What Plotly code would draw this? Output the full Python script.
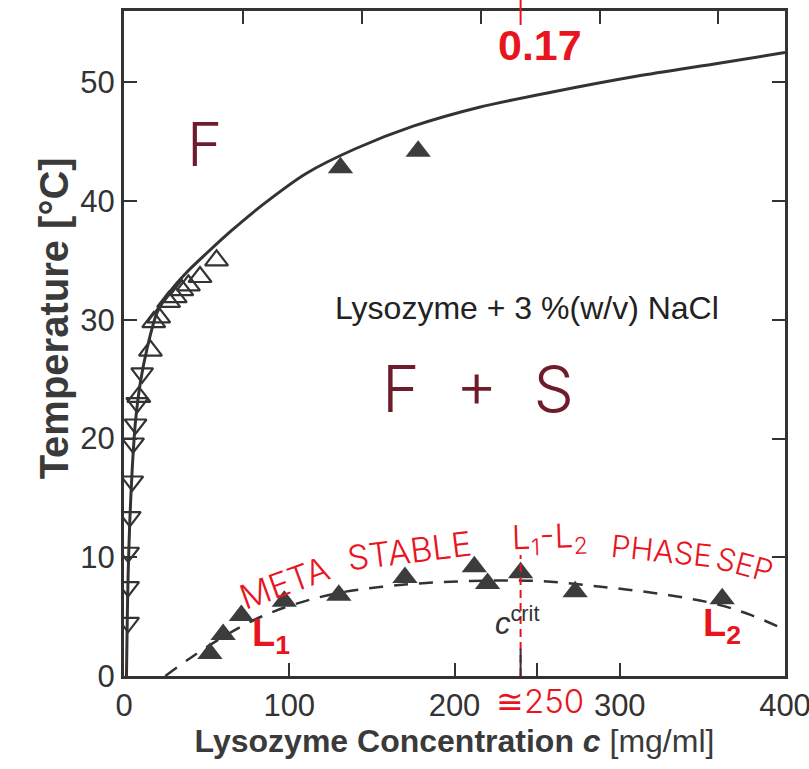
import plotly.graph_objects as go

# ---------------- data ----------------
# solubility line (solid)
curve_c = [1.5, 2, 2.5, 3.5, 5, 7, 10, 14, 20, 28, 38, 50, 65, 85, 110, 140, 175, 215, 260, 310, 360, 400]
curve_T = [0, 5, 8.5, 13, 17.5, 21.5, 24.8, 27.6, 30.6, 32.4, 34.0, 35.6, 37.5, 39.8, 42.3, 44.4, 46.3, 47.9, 49.2, 50.5, 51.6, 52.5]

# open triangles (up)
up_c = [9, 16, 18, 21, 27, 31, 35, 39, 46, 56]
up_T = [23.5, 27.4, 29.8, 30.2, 31.5, 31.9, 32.5, 32.9, 33.6, 35.0]

# open triangles (down)
down_c = [2.5, 2.5, 2.5, 3.5, 5, 5.5, 7, 8, 11]
down_T = [4.5, 7.5, 10.4, 13.4, 16.4, 19.6, 21.2, 23.0, 25.5]

# filled triangles (L1-L2 coexistence and two high points)
fill_c = [52, 60, 71, 97, 130, 170, 212, 220, 240, 273, 362, 131, 178]
fill_T = [1.9, 3.5, 5.1, 6.3, 6.8, 8.3, 9.2, 7.8, 8.7, 7.1, 6.5, 42.8, 44.2]

# coexistence curve (dashed)
dash_c = [25, 40, 60, 80, 100, 130, 170, 210, 250, 290, 330, 360, 380, 400]
dash_T = [0, 1.5, 3.3, 4.8, 5.9, 7.0, 7.7, 8.0, 8.0, 7.5, 6.8, 6.0, 5.1, 3.9]

x_ticks = [0, 100, 200, 250, 300, 400]
x_ticktext = ["0", "100", "200", "", "300", "400"]
y_ticks = [0, 10, 20, 30, 40, 50]
phi_ticks = [0.05, 0.10, 0.15, 0.20, 0.25]
PHI_PER_C = 0.000695
c_crit = 240

INK = "#333333"
RED = "#e8141e"
MAROON = "#6e1c2c"

fig = go.Figure()

fig.add_trace(go.Scatter(x=curve_c, y=curve_T, mode="lines",
                         line=dict(color=INK, width=3, shape="spline", smoothing=0.8),
                         showlegend=False, hoverinfo="skip"))
fig.add_trace(go.Scatter(x=dash_c, y=dash_T, mode="lines",
                         line=dict(color=INK, width=2.5, shape="spline", dash="14px,11px"),
                         showlegend=False, hoverinfo="skip"))
fig.add_trace(go.Scatter(x=down_c, y=down_T, mode="markers",
                         marker=dict(symbol="triangle-down-open", size=19, color=INK,
                                     line=dict(width=2.2, color=INK)),
                         showlegend=False))
fig.add_trace(go.Scatter(x=up_c, y=up_T, mode="markers",
                         marker=dict(symbol="triangle-up-open", size=20, color=INK,
                                     line=dict(width=2.2, color=INK)),
                         showlegend=False))
fig.add_trace(go.Scatter(x=fill_c, y=fill_T, mode="markers",
                         marker=dict(symbol="triangle-up", size=22, color="#3c3c3c"),
                         showlegend=False))
# phantom trace for the top (volume fraction) axis
fig.add_trace(go.Scatter(x=phi_ticks, y=[None] * len(phi_ticks), xaxis="x2",
                         mode="markers", showlegend=False, hoverinfo="skip"))

# red critical concentration line
fig.add_shape(type="line", x0=c_crit, x1=c_crit, y0=0, y1=10.2, xref="x", yref="y",
              line=dict(color=RED, width=2, dash="8px,5px"))
fig.add_shape(type="line", x0=c_crit, x1=c_crit, y0=0.979, y1=1.03, xref="x", yref="paper",
              line=dict(color=RED, width=2))
fig.add_shape(type="line", x0=c_crit, x1=c_crit, y0=0, y1=2.3, xref="x", yref="y",
              line=dict(color=INK, width=2))

hand = "Inter"
ann = []
ann.append(dict(x=49, y=44.8, text="F", font=dict(family=hand, size=60, color=MAROON, weight=300)))
ann.append(dict(x=214, y=24.2, text="F  +  S", font=dict(family=hand, size=64, color=MAROON, weight=300)))
ann.append(dict(x=244, y=31.0, text="Lysozyme + 3 %(w/v) NaCl",
                font=dict(family="Liberation Sans", size=32, color="#222222")))
ann.append(dict(x=252, y=53.1, text="<b>0.17</b>", font=dict(family="Liberation Sans", size=43, color=RED)))
ann.append(dict(x=238, y=4.6, text="<i>c</i><sup>crit</sup>",
                font=dict(family="Liberation Sans", size=31, color=INK)))
ann.append(dict(x=89, y=3.4, text="<b>L<sub>1</sub></b>", font=dict(family="Liberation Sans", size=38, color=RED)))
ann.append(dict(x=362, y=4.2, text="<b>L<sub>2</sub></b>", font=dict(family="Liberation Sans", size=38, color=RED)))
# metastable label, following its arc
ann.append(dict(x=97, y=7.9, text="META", textangle=-20, font=dict(family=hand, size=34, color=RED, weight=300)))
ann.append(dict(x=173, y=10.6, text="STABLE", textangle=-7, font=dict(family=hand, size=34, color=RED, weight=300)))
ann.append(dict(x=258, y=11.6, text="L<sub>1</sub>-L<sub>2</sub>", textangle=-2,
                font=dict(family=hand, size=33, color=RED, weight=300)))
ann.append(dict(x=325, y=10.6, text="PHASE", textangle=6, font=dict(family=hand, size=31, color=RED, weight=300)))
ann.append(dict(x=376, y=9.4, text="SEP", textangle=15, font=dict(family=hand, size=31, color=RED, weight=300)))
# approximate value under the axis
ann.append(dict(x=252, y=-0.004, yref="paper", yanchor="top", text="≅250",
                font=dict(family=hand, size=33, color=RED, weight=300)))
# y-axis title
ann.append(dict(x=-0.142, y=0.538, xref="paper", yref="paper", text="<b>Temperature [°C]</b>",
                textangle=-90, font=dict(family="Liberation Sans", size=40, color="#3a3a3a")))

for a in ann:
    a.setdefault("xref", "x")
    a.setdefault("yref", "y")
    a["showarrow"] = False
fig.update_layout(annotations=ann)

axis_font = dict(family="Liberation Sans", size=31, color=INK)
fig.update_layout(
    width=809, height=769,
    margin=dict(l=124, r=24, t=11, b=93, autoexpand=False),
    paper_bgcolor="white", plot_bgcolor="white",
    font=dict(family="Liberation Sans", color=INK),
    xaxis=dict(range=[0, 400], tickvals=x_ticks, ticktext=x_ticktext, automargin=False,
               ticks="inside", ticklen=13, tickwidth=2, tickcolor=INK,
               ticklabeloverflow="allow",
               showline=True, linewidth=3, linecolor=INK, mirror=True,
               showgrid=False, zeroline=False, tickfont=axis_font,
               title=dict(text="<b>Lysozyme Concentration <i>c</i></b> [mg/ml]",
                          font=dict(family="Liberation Sans", size=32, color="#3a3a3a"),
                          standoff=6)),
    xaxis2=dict(range=[0, 400 * PHI_PER_C], overlaying="x", side="top", automargin=False,
                tickvals=phi_ticks, ticks="inside", ticklen=13, tickwidth=2,
                tickcolor=INK, showticklabels=False, showgrid=False,
                zeroline=False, showline=False),
    yaxis=dict(range=[0, 56], tickvals=y_ticks, ticks="inside", ticklen=13, automargin=False,
               tickwidth=2, tickcolor=INK, showline=True, linewidth=3,
               linecolor=INK, mirror="ticks", showgrid=False, zeroline=False,
               tickfont=axis_font, ticklabeloverflow="allow"),
)

fig.write_html("out.html", config={"displayModeBar": False},
               post_script="document.body.style.margin='0';document.body.style.overflow='hidden';")
